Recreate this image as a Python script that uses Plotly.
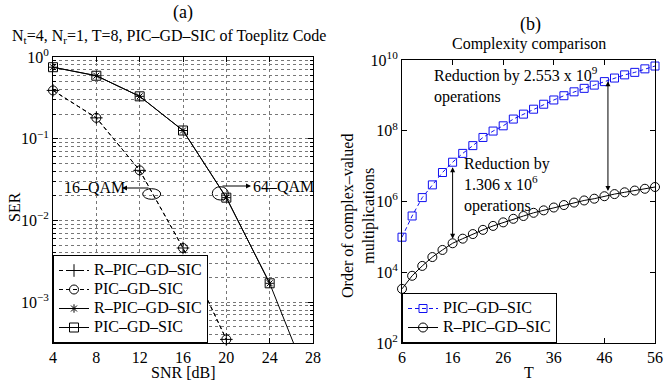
import numpy as np
import plotly.graph_objects as go

# ---------------- data ----------------
# (a) SER vs SNR
snr_16 = [4, 8, 12, 16, 20]
ser_16_rpic = [0.39, 0.18, 0.041, 0.0046, 0.00035]
ser_16_pic = [0.39, 0.18, 0.041, 0.0046, 0.00035]

snr_64 = [4, 8, 12, 16, 20, 24, 28]
ser_64_rpic = [0.75, 0.59, 0.33, 0.126, 0.019, 0.0017, 0.00008]
ser_64_pic = [0.75, 0.59, 0.33, 0.126, 0.019, 0.0017, 0.00008]

snr_ticks = [4, 8, 12, 16, 20, 24, 28]
ser_tickvals = [1e-3, 1e-2, 1e-1, 1]
ser_ticktext = ["10<sup>−3</sup>", "10<sup>−2</sup>", "10<sup>−1</sup>", "10<sup>0</sup>"]

# (b) complexity vs T
T = [6, 8, 10, 12, 14, 16, 18, 20, 22, 24, 26, 28, 30, 32, 34, 36, 38, 40,
     42, 44, 46, 48, 50, 52, 54, 56]
mult_pic = [9.8e4, 3.9e5, 1.29e6, 2.95e6, 6.6e6, 1.29e7, 2.29e7, 3.8e7, 6.46e7,
            9.8e7, 1.38e8, 2.14e8, 2.95e8, 4.07e8, 5.62e8, 7.41e8, 9.77e8,
            1.26e9, 1.58e9, 1.95e9, 2.45e9, 3.09e9, 3.8e9, 4.47e9, 5.62e9, 6.76e9]
mult_rpic = [3.39e3, 7.94e3, 1.51e4, 2.69e4, 4.27e4, 6.6e4, 8.9e4, 1.2e5, 1.58e5,
             2.04e5, 2.57e5, 3.24e5, 3.89e5, 4.79e5, 5.62e5, 6.76e5, 7.94e5,
             9.33e5, 1.07e6, 1.2e6, 1.41e6, 1.62e6, 1.82e6, 2.04e6, 2.29e6, 2.57e6]

t_ticks = [6, 16, 26, 36, 46, 56]
mult_tickvals = [1e2, 1e4, 1e6, 1e8, 1e10]
mult_ticktext = ["10<sup>2</sup>", "10<sup>4</sup>", "10<sup>6</sup>", "10<sup>8</sup>", "10<sup>10</sup>"]

arrow_T = [16, 46.7]

FONT = "Liberation Serif"
BLUE = "#1010f0"


def leg(name):
    return '<span style="font-size:16px">' + name + "</span>"


fig = go.Figure()

# ---- (a) traces ----
fig.add_trace(go.Scatter(x=snr_16, y=ser_16_rpic, mode="lines+markers", name=leg("R–PIC–GD–SIC"),
                         line=dict(color="black", width=1, dash="4px,3px"),
                         marker=dict(symbol="cross-thin-open", size=9, line=dict(color="black", width=1)),
                         cliponaxis=False, xaxis="x", yaxis="y", legend="legend"))
fig.add_trace(go.Scatter(x=snr_16, y=ser_16_pic, mode="lines+markers", name=leg("PIC–GD–SIC"),
                         line=dict(color="black", width=1, dash="4px,3px"),
                         marker=dict(symbol="circle-open", size=9, line=dict(color="black", width=1)),
                         cliponaxis=False, xaxis="x", yaxis="y", legend="legend"))
fig.add_trace(go.Scatter(x=snr_64[:-1], y=ser_64_rpic[:-1], mode="lines+markers", name=leg("R–PIC–GD–SIC"),
                         line=dict(color="black", width=1),
                         marker=dict(symbol="asterisk-open", size=7, line=dict(color="black", width=1)),
                         cliponaxis=False, xaxis="x", yaxis="y", legend="legend"))
fig.add_trace(go.Scatter(x=snr_64[:-1], y=ser_64_pic[:-1], mode="lines+markers", name=leg("PIC–GD–SIC"),
                         line=dict(color="black", width=1),
                         marker=dict(symbol="square-open", size=9, line=dict(color="black", width=1)),
                         cliponaxis=False, xaxis="x", yaxis="y", legend="legend"))
fig.add_trace(go.Scatter(x=snr_64[-2:], y=ser_64_pic[-2:], mode="lines", showlegend=False,
                         line=dict(color="black", width=1), xaxis="x", yaxis="y", hoverinfo="skip"))

# ---- (b) traces ----
fig.add_trace(go.Scatter(x=T, y=mult_pic, mode="lines+markers", name=leg("PIC–GD–SIC"),
                         line=dict(color=BLUE, width=1, dash="4px,3px"),
                         marker=dict(symbol="square-open", size=8, line=dict(color=BLUE, width=1)),
                         cliponaxis=False, xaxis="x2", yaxis="y2", legend="legend2"))
fig.add_trace(go.Scatter(x=T, y=mult_rpic, mode="lines+markers", name=leg("R–PIC–GD–SIC"),
                         line=dict(color="black", width=1),
                         marker=dict(symbol="circle-open", size=9, line=dict(color="black", width=1)),
                         cliponaxis=False, xaxis="x2", yaxis="y2", legend="legend2"))

axis_common = dict(showline=True, linecolor="black", linewidth=1, mirror="ticks",
                   ticks="inside", ticklen=5, tickcolor="black", automargin=False,
                   tickfont=dict(family=FONT, size=16, color="black"), zeroline=False)

LEGFONT = dict(family=FONT, size=12, color="black")

fig.update_layout(
    width=664, height=384,
    margin=dict(l=0, r=0, t=0, b=0, autoexpand=False),
    paper_bgcolor="white", plot_bgcolor="white",
    font=dict(family=FONT, size=16, color="black"),
    xaxis=dict(domain=[53/664, 313/664], range=[4, 28], tickmode="array", tickvals=snr_ticks,
               showgrid=True, gridcolor="#777", griddash="dot", gridwidth=1, **axis_common),
    yaxis=dict(domain=[41/384, 327/384], type="log", range=[-3.5, 0], tickmode="array",
               tickvals=ser_tickvals, ticktext=ser_ticktext,
               showgrid=True, gridcolor="#777", griddash="dot", gridwidth=1,
               minor=dict(dtick="D1", showgrid=True, gridcolor="#777", griddash="dot",
                          ticks="inside", ticklen=3, tickcolor="black"),
               anchor="x", **axis_common),
    xaxis2=dict(domain=[402/664, 655/664], range=[6, 56], tickmode="array", tickvals=t_ticks,
                showgrid=False, anchor="y2", **axis_common),
    yaxis2=dict(domain=[41/384, 324/384], type="log", range=[2, 10], tickmode="array",
                tickvals=mult_tickvals, ticktext=mult_ticktext, showgrid=False,
                anchor="x2", **axis_common),
    legend=dict(x=53/664, y=41/384, xanchor="left", yanchor="bottom", bgcolor="white",
                bordercolor="black", borderwidth=1, itemwidth=30, tracegroupgap=0,
                font=LEGFONT),
    legend2=dict(x=402/664, y=41/384, xanchor="left", yanchor="bottom", bgcolor="white",
                 bordercolor="black", borderwidth=1, itemwidth=30, tracegroupgap=0,
                 font=LEGFONT),
    showlegend=True,
)


def px(x):
    return x / 664


def py(y):
    return (384 - y) / 384


ann = []
# titles
ann.append(dict(text="(a)", x=px(183), y=py(13), font=dict(size=18)))
ann.append(dict(text="N<sub>t</sub>=4, N<sub>r</sub>=1, T=8, PIC–GD–SIC of Toeplitz Code",
                x=px(169), y=py(37), font=dict(size=16)))
ann.append(dict(text="(b)", x=px(530), y=py(25), font=dict(size=18)))
ann.append(dict(text="Complexity comparison", x=px(529), y=py(44), font=dict(size=16)))
# axis titles
ann.append(dict(text="SER", x=px(14), y=py(207), textangle=-90, font=dict(size=16)))
ann.append(dict(text="SNR [dB]", x=px(183), y=py(372), font=dict(size=16)))
ann.append(dict(text="T", x=px(529), y=py(372), font=dict(size=16)))
ann.append(dict(text="Order of complex–valued<br>multiplications", x=px(358), y=py(216),
                textangle=-90, font=dict(size=16)))
# QAM labels
ann.append(dict(text="16–QAM", x=px(94), y=py(187), font=dict(size=16)))
ann.append(dict(text="64–QAM", x=px(283), y=py(186), font=dict(size=16)))
for a in ann:
    a.update(xref="paper", yref="paper", showarrow=False, xanchor="center", yanchor="middle",
             font=dict(family=FONT, size=a["font"]["size"], color="black"))

# QAM arrows
ann.append(dict(text="", x=px(122), y=py(188), ax=28, ay=0, xref="paper", yref="paper",
                showarrow=True, arrowhead=2, arrowsize=1, arrowwidth=1, arrowcolor="black"))
ann.append(dict(text="", x=px(251), y=py(186), ax=-30, ay=0, xref="paper", yref="paper",
                showarrow=True, arrowhead=2, arrowsize=1, arrowwidth=1, arrowcolor="black"))

# reduction arrows (b)
logT_pic = np.log10(mult_pic)
logT_rpic = np.log10(mult_rpic)
for t_a, so, sso in zip(arrow_T, [5, 1], [3, 3]):
    ann.append(dict(text="", x=t_a, y=float(np.interp(t_a, T, logT_pic)),
                    ax=t_a, ay=float(np.interp(t_a, T, logT_rpic)),
                    xref="x2", yref="y2", axref="x2", ayref="y2", showarrow=True,
                    arrowside="end+start", arrowhead=2, startarrowhead=2, arrowsize=1,
                    startarrowsize=1, arrowwidth=1, arrowcolor="black",
                    standoff=so, startstandoff=sso))

ann.append(dict(text="Reduction by 2.553 x 10<sup>9</sup><br>operations", x=px(432), y=py(85),
                xref="paper", yref="paper", showarrow=False, xanchor="left", yanchor="middle",
                align="left", font=dict(family=FONT, size=16, color="black")))
ann.append(dict(text="Reduction by<br>1.306 x 10<sup>6</sup><br>operations", x=px(462), y=py(185),
                xref="paper", yref="paper", showarrow=False, xanchor="left", yanchor="middle",
                align="left", font=dict(family=FONT, size=16, color="black")))

fig.update_layout(annotations=ann)

# ellipses
fig.add_shape(type="circle", xref="paper", yref="paper", x0=px(142.7), x1=px(160.7),
              y0=py(199.3), y1=py(188.7), line=dict(color="black", width=1))
fig.add_shape(type="circle", xref="paper", yref="paper", x0=px(212.3), x1=px(228.3),
              y0=py(200), y1=py(186.7), line=dict(color="black", width=1))

fig.write_html("out.html", config={"displayModeBar": False},
               post_script="document.body.style.margin='0';")
